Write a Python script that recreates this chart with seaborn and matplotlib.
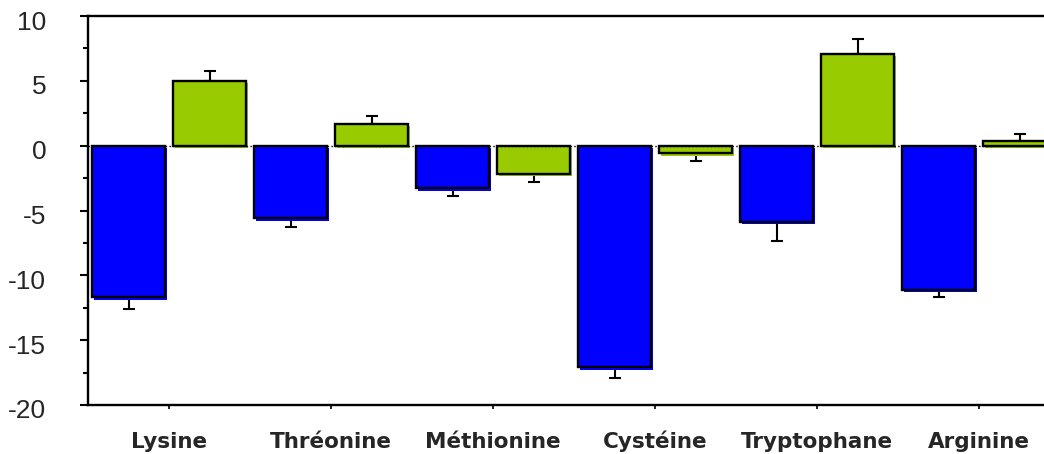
import matplotlib
matplotlib.use('Agg')
import matplotlib.pyplot as plt
import matplotlib.patheffects as pe
import matplotlib.transforms as mtransforms
from matplotlib.ticker import MultipleLocator
import seaborn as sns
import pandas as pd
import numpy as np

# Données
acides = ['Lysine', 'Thréonine', 'Méthionine', 'Cystéine', 'Tryptophane', 'Arginine']
serie_bleue = [-11.7, -5.6, -3.3, -17.1, -5.9, -11.1]
err_bleue = [0.9, 0.65, 0.6, 0.8, 1.45, 0.6]
serie_verte = [5.0, 1.7, -2.15, -0.6, 7.05, 0.33]
err_verte = [0.75, 0.6, 0.65, 0.6, 1.2, 0.6]
couleurs = ['#0000FF', '#99CC00']

df = pd.DataFrame({
    'acide': acides * 2,
    'valeur': serie_bleue + serie_verte,
    'serie': ['A'] * len(acides) + ['B'] * len(acides),
})
erreurs = {'A': err_bleue, 'B': err_verte}

sns.set_style('white')
plt.rcParams['font.family'] = ['Liberation Sans', 'DejaVu Sans']
plt.rcParams['axes.unicode_minus'] = False

fig = plt.figure(figsize=(10.44, 4.54), dpi=100)
ax = fig.add_axes([88 / 1044, 1 - 405 / 454, (1060 - 88) / 1044, (405 - 16) / 454])

sns.barplot(data=df, x='acide', y='valeur', hue='serie', order=acides,
            palette=couleurs, saturation=1, width=1.0, gap=0.1,
            edgecolor='black', linewidth=1.7, legend=False, ax=ax, zorder=3)

# ombre colorée décalée + barres d'erreur d'un seul côté
for cont, serie, coul in zip(ax.containers, ['A', 'B'], couleurs):
    xs, ys = [], []
    for bar in cont:
        bar.set_path_effects([pe.SimplePatchShadow(offset=(1.2, -1.6), shadow_rgbFace=coul, alpha=1),
                              pe.Normal()])
        xs.append(bar.get_x() + bar.get_width() / 2)
        ys.append(bar.get_y() + bar.get_height())
    ys = np.array(ys)
    err = np.array(erreurs[serie])
    bas = np.where(ys < 0, err, 0)
    haut = np.where(ys >= 0, err, 0)
    ax.errorbar(xs, ys, yerr=[bas, haut], fmt='none', ecolor='black',
                elinewidth=1.5, capsize=4, capthick=1.5, zorder=2)

ax.axhline(0, color='black', ls=':', lw=1, zorder=4)

ax.set_ylim(-20, 10)
ax.set_xlim(-0.5, len(acides) - 0.5)
ax.yaxis.set_major_locator(MultipleLocator(5))
ax.yaxis.set_minor_locator(MultipleLocator(2.5))
ax.set_xlabel('')
ax.set_ylabel('')

for s in ax.spines.values():
    s.set_color('black')
    s.set_linewidth(1.7)

ax.tick_params(axis='y', which='major', direction='out', length=6, width=1.5,
               pad=24, labelsize=19, left=True, color='black')
ax.tick_params(axis='y', which='minor', direction='out', length=3.5, width=1.5,
               left=True, color='black')
ax.tick_params(axis='x', direction='out', length=3, width=1.2, bottom=True,
               pad=28, color='black')

for lab in ax.get_xticklabels():
    lab.set_fontfamily('DejaVu Sans')
    lab.set_fontweight('bold')
    lab.set_fontsize(15.5)
    lab.set_verticalalignment('baseline')

decal = mtransforms.ScaledTranslation(0, -4 / 100, fig.dpi_scale_trans)
for lab in ax.get_yticklabels():
    lab.set_transform(lab.get_transform() + decal)

fig.savefig('out.png', dpi=100)
